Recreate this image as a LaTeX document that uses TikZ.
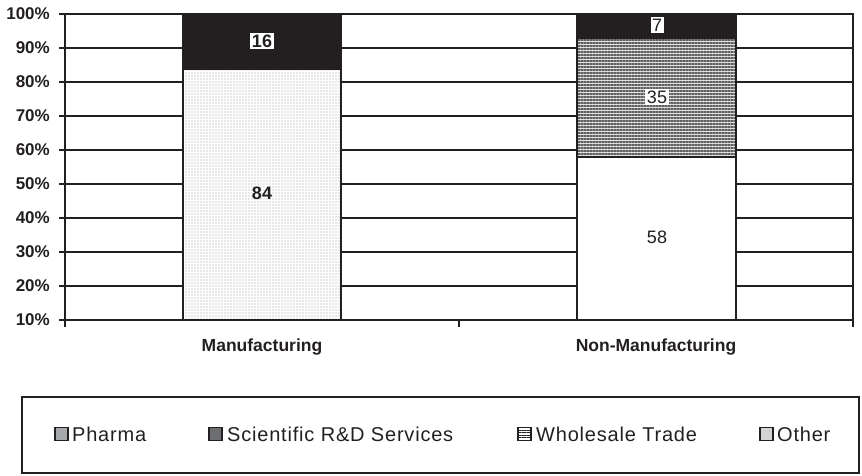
\documentclass[tikz,border=0pt]{standalone}
\usepackage{fontspec}
\setmainfont{Liberation Sans}
\newfontfamily\legfont[LetterSpace=4]{Liberation Sans}
\usetikzlibrary{patterns.meta}
\definecolor{ink}{HTML}{231F20}
\definecolor{pharmac}{HTML}{A7A9AC}
\definecolor{scic}{HTML}{6D6E71}
\definecolor{otherc}{HTML}{D1D3D4}
\tikzset{
  gridline/.style={draw=ink, line width=2.4pt},
  barframe/.style={draw=ink, line width=2.4pt},
  ticklab/.style={anchor=east, font=\fontsize{17}{19}\selectfont\bfseries, text=ink, inner sep=0pt},
  catlab/.style={font=\fontsize{17.5}{20}\selectfont\bfseries, text=ink, inner sep=0pt},
  vallab/.style={fill=white, text=ink, inner sep=1.5pt, font=\fontsize{18}{20}\selectfont},
  vallabb/.style={vallab, font=\fontsize{18}{20}\selectfont\bfseries},
  legsq/.style={draw=ink, line width=1.8pt, minimum size=13pt, inner sep=0pt},
  legtxt/.style={anchor=west, inner sep=0pt, text=ink, font=\legfont\fontsize{20}{22}\selectfont},
}
\begin{document}
\begin{tikzpicture}[x=1pt, y=-1pt]
\useasboundingbox (0,0) rectangle (862,475);
% grid lines and y ticks
\foreach \k/\lab in {0/10\%,1/20\%,2/30\%,3/40\%,4/50\%,5/60\%,6/70\%,7/80\%,8/90\%,9/100\%}{
  \pgfmathsetmacro{\yy}{320-34*\k}
  \coordinate (gl\k) at (65,\yy);
  \coordinate (gr\k) at (853,\yy);
  \coordinate (gt\k) at (59,\yy);
  \draw[gridline] (gt\k) -- (gr\k);
  \node[ticklab] (yl\k) at (50,\yy) {\lab};
}
% axes
\coordinate (axtl) at (65,13);
\coordinate (axbl) at (65,327);
\coordinate (axtr) at (853,13);
\coordinate (axbr) at (853,327);
\coordinate (axm) at (459,320);
\coordinate (axmb) at (459,327);
\draw[gridline] (axtl) -- (axbl);
\draw[gridline] (axtr) -- (axbr);
\draw[gridline] (axm) -- (axmb);
% Manufacturing bar
\fill[white] (183,68.4) rectangle (341,320);
\fill[pattern={Dots[radius=0.6pt, distance=3pt]}, pattern color=gray!80] (183,68.4) rectangle (341,320);
\draw[barframe] (183,68.4) rectangle (341,320);
\draw[barframe, fill=ink] (183,14) rectangle (341,68.4);
% Non-Manufacturing bar
\draw[barframe, fill=white] (577,156.8) rectangle (736,320);
\fill[gray!25] (577,37.8) rectangle (736,156.8);
\fill[pattern={Lines[angle=0, distance=3pt, line width=1.5pt]}, pattern color=gray!75!black] (577,37.8) rectangle (736,156.8);
\draw[barframe] (577,37.8) rectangle (736,156.8);
\draw[barframe, fill=ink] (577,14) rectangle (736,37.8);
% value labels
\node[vallabb] (v16) at (262,41) {16};
\node[vallabb, fill=none] (v84) at (262,193) {84};
\node[vallab] (v7) at (657,25) {7};
\node[vallab] (v35) at (657,97) {35};
\node[vallab, fill=none] (v58) at (657,237) {58};
% category labels
\node[catlab] (c1) at (262,347) {Manufacturing};
\node[catlab] (c2) at (656,347) {Non-Manufacturing};
% legend
\draw[draw=ink, line width=2.2pt] (22,397) rectangle (859,473);
\node[legsq, fill=pharmac] (s1) at (61.5,434) {};
\node[legtxt] (t1) at (72,434) {Pharma};
\node[legsq, fill=scic] (s2) at (215.5,434) {};
\node[legtxt] (t2) at (227,434) {Scientific R\&D Services};
\node[legsq, fill=gray!45, pattern={Lines[angle=0, distance=2.5pt, line width=1pt]}, pattern color=ink] (s3) at (524.5,434) {};
\node[legtxt] (t3) at (536,434) {Wholesale Trade};
\node[legsq, fill=otherc] (s4) at (766.5,434) {};
\node[legtxt] (t4) at (777,434) {Other};
\end{tikzpicture}
\end{document}
